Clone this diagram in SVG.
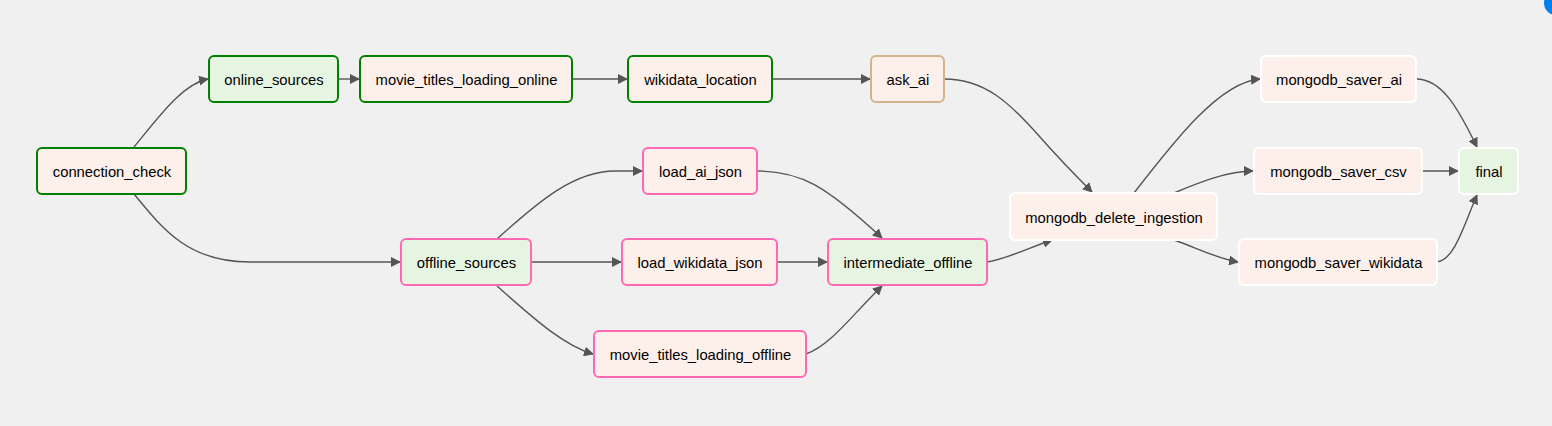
<svg xmlns="http://www.w3.org/2000/svg" width="1552" height="426" viewBox="0 0 1552 426">
<defs>
<style>
.n rect{stroke-width:2;}
.pink rect{fill:#fdefea;}
.green rect{fill:#e6f5e1;}
.bg{stroke:#008000;}
.bp{stroke:#ff69b4;}
.bt{stroke:#d2b48c;}
.bw{stroke:#ffffff;}
text{font-family:"Liberation Sans",Arial,sans-serif;font-size:14.8px;fill:#000;text-anchor:middle;dominant-baseline:central;}
.e path{fill:none;stroke:#555;stroke-width:1.4;marker-end:url(#ah);}
</style>
<marker id="ah" viewBox="0 0 10 10" refX="9" refY="5" markerUnits="userSpaceOnUse" markerWidth="10" markerHeight="10" orient="auto">
<path d="M0,0 L10,5 L0,10 z" fill="#555"/>
</marker>
</defs>
<rect width="1552" height="426" fill="#f0f0f0"/>
<circle cx="1556" cy="3" r="12" fill="#0080f0"/>
<g class="e" id="edges">
<path d="M134,147 C158,118 182,84 208,79"/>
<path d="M134,194 C165,232 190,262 250,262 L400,262"/>
<path d="M338,79 L359,79"/>
<path d="M572,79 L627,79"/>
<path d="M772,79 L870,79"/>
<path d="M944,79 C985,79 1010,103 1040,137 C1062,162 1078,178 1092,192"/>
<path d="M497,239 C540,200 575,171 615,171 L642,171"/>
<path d="M531,262 L621,262"/>
<path d="M497,286 C530,315 562,345 593,354"/>
<path d="M757,171 C800,171 825,185 882,238"/>
<path d="M777,262 L827,262"/>
<path d="M806,354 C830,346 852,315 882,286"/>
<path d="M987,262 C1010,258 1028,248 1052,240"/>
<path d="M1134,193 C1175,140 1220,82 1260,79"/>
<path d="M1174,193 C1200,182 1228,171 1253,171"/>
<path d="M1174,240 C1195,247 1215,258 1238,262"/>
<path d="M1416,79 C1442,79 1458,108 1477,147"/>
<path d="M1422,171 L1458,171"/>
<path d="M1437,262 C1455,260 1465,222 1477,195"/>
</g>
<g id="connection_check" class="n pink"><rect class="bg" x="37" y="148" width="149" height="46" rx="5"/><text x="112" y="172">connection_check</text></g>
<g id="online_sources" class="n green"><rect class="bg" x="209" y="56" width="129" height="46" rx="5"/><text x="274" y="80">online_sources</text></g>
<g id="movie_titles_loading_online" class="n pink"><rect class="bg" x="360" y="56" width="212" height="46" rx="5"/><text x="466.5" y="80">movie_titles_loading_online</text></g>
<g id="wikidata_location" class="n pink"><rect class="bg" x="628" y="56" width="144" height="46" rx="5"/><text x="700.5" y="80">wikidata_location</text></g>
<g id="ask_ai" class="n pink"><rect class="bt" x="871" y="56" width="73" height="46" rx="5"/><text x="908" y="80">ask_ai</text></g>
<g id="load_ai_json" class="n pink"><rect class="bp" x="643" y="148" width="114" height="46" rx="5"/><text x="700.5" y="172">load_ai_json</text></g>
<g id="offline_sources" class="n green"><rect class="bp" x="401" y="239" width="130" height="46" rx="5"/><text x="466.5" y="263">offline_sources</text></g>
<g id="load_wikidata_json" class="n pink"><rect class="bp" x="622" y="239" width="155" height="46" rx="5"/><text x="700" y="263">load_wikidata_json</text></g>
<g id="intermediate_offline" class="n green"><rect class="bp" x="828" y="239" width="159" height="46" rx="5"/><text x="908" y="263">intermediate_offline</text></g>
<g id="movie_titles_loading_offline" class="n pink"><rect class="bp" x="594" y="331" width="212" height="46" rx="5"/><text x="700.5" y="355">movie_titles_loading_offline</text></g>
<g id="mongodb_delete_ingestion" class="n pink"><rect class="bw" x="1010" y="193" width="207" height="47" rx="5"/><text x="1114" y="217.5">mongodb_delete_ingestion</text></g>
<g id="mongodb_saver_ai" class="n pink"><rect class="bw" x="1261" y="56" width="155" height="46" rx="5"/><text x="1339" y="80">mongodb_saver_ai</text></g>
<g id="mongodb_saver_csv" class="n pink"><rect class="bw" x="1254" y="148" width="168" height="46" rx="5"/><text x="1338.5" y="172">mongodb_saver_csv</text></g>
<g id="final" class="n green"><rect class="bw" x="1459" y="148" width="59" height="46" rx="5"/><text x="1489" y="172">final</text></g>
<g id="mongodb_saver_wikidata" class="n pink"><rect class="bw" x="1239" y="239" width="198" height="46" rx="5"/><text x="1338.5" y="263">mongodb_saver_wikidata</text></g>
</svg>
